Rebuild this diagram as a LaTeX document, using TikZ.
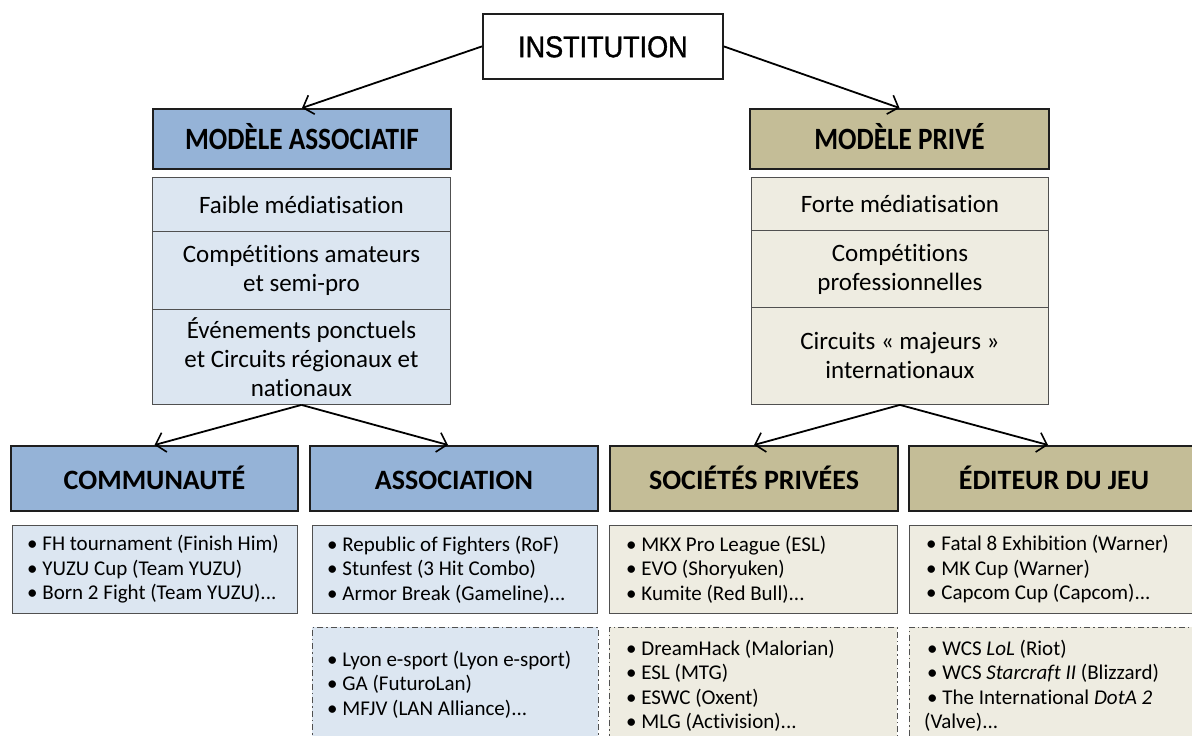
\documentclass[tikz,border=0pt]{standalone}
\usepackage{fontspec}
\setmainfont{Carlito}[Ligatures=NoCommon]
\newfontfamily\instfont{Liberation Sans}[FakeStretch=0.9,FakeBold=1.2]
\newfontfamily\hdfont{Carlito}[FakeStretch=0.88,Ligatures=NoCommon]
\newfontfamily\hdfontb{Carlito}[Ligatures=NoCommon]
\usetikzlibrary{arrows.meta}
\definecolor{hblue}{HTML}{95B3D7}
\definecolor{lblue}{HTML}{DCE6F1}
\definecolor{htan}{HTML}{C4BD97}
\definecolor{ltan}{HTML}{EEECE1}
\definecolor{bord}{HTML}{1E1E1E}
\definecolor{thin}{HTML}{505050}
\begin{document}
\begin{tikzpicture}[x=1pt,y=-1pt,
  hdr/.style={draw=bord, line width=2pt, inner sep=0pt, anchor=north west,
    text height=20pt, text depth=0pt,
    font=\hdfont\bfseries\fontsize{31}{34}\selectfont},
  hdrbig/.style={hdr, text height=21pt, text depth=0pt,
    font=\hdfontb\bfseries\fontsize{28}{32}\selectfont},
  cell/.style={draw=thin, line width=0.9pt, inner sep=0pt, anchor=north west,
    minimum width=298, align=center, font=\fontsize{25}{29}\selectfont},
  listbox/.style={draw=thin, line width=0.9pt, inner sep=0pt, anchor=north west,
    minimum width=285},
  dashbox/.style={draw=thin, line width=0.9pt, inner sep=0pt, anchor=north west,
    minimum width=286, dash pattern=on 6pt off 3pt on 1.5pt off 3pt},
  listtext/.style={anchor=west, align=left, inner sep=0pt,
    font=\fontsize{21}{24.5}\selectfont},
  conn/.style={line width=1.8pt, -{Straight Barb[length=9pt,width=20pt,line width=1.6pt]}}
]
\useasboundingbox (0,0) rectangle (1192,736);
\fill[white] (0,0) rectangle (1192,736);
\begin{scope}
\clip (0,0) rectangle (1192,736);
% top
\node[draw=bord, line width=1.8pt, fill=white, minimum width=240, minimum height=65,
  inner sep=0pt, anchor=north west, text height=21.5pt, text depth=0pt,
  font=\instfont\fontsize{30}{34}\selectfont]
  (inst) at (482,13) {INSTITUTION};
% level 1
\node[hdr, fill=hblue, minimum width=298, minimum height=60] (masso) at (152,108) {MODÈLE ASSOCIATIF};
\node[hdr, fill=htan, minimum width=299, minimum height=60] (mpriv) at (749,108) {MODÈLE PRIVÉ};
% stacks
\node[cell, fill=lblue, minimum height=54] (la) at (152,177) {Faible médiatisation};
\node[cell, fill=lblue, minimum height=78] (lb) at (152,231) {Compétitions amateurs\\et semi-pro};
\node[cell, fill=lblue, minimum height=95] (lc) at (152,309) {Événements ponctuels\\et Circuits régionaux et\\nationaux};
\node[cell, fill=ltan, minimum width=297, minimum height=53] (ra) at (751,177) {Forte médiatisation};
\node[cell, fill=ltan, minimum width=297, minimum height=77] (rb) at (751,230) {Compétitions\\professionnelles};
\node[cell, fill=ltan, minimum width=297, minimum height=97] (rc) at (751,307) {Circuits « majeurs »\\internationaux};
% level 2 headers
\node[hdrbig, fill=hblue, minimum width=287, minimum height=65] (comm) at (10,445) {COMMUNAUTÉ};
\node[hdrbig, fill=hblue, minimum width=288, minimum height=65] (asso) at (309,445) {ASSOCIATION};
\node[hdrbig, fill=htan, minimum width=288, minimum height=65] (soc) at (609,445) {SOCIÉTÉS PRIVÉES};
\node[hdrbig, fill=htan, minimum width=290, minimum height=65] (edit) at (908,445) {ÉDITEUR DU JEU};
% list boxes
\node[listbox, fill=lblue, minimum height=88] (b1) at (12,525) {};
\node[listbox, fill=lblue, minimum height=88] (b2) at (312,525) {};
\node[listbox, fill=ltan, minimum width=288, minimum height=88] (b3) at (609,525) {};
\node[listbox, fill=ltan, minimum width=290, minimum height=88] (b4) at (909,525) {};
\node[listtext] (t1) at ([xshift=15]b1.west) {\textbullet\ FH tournament (Finish Him)\\\textbullet\ YUZU Cup (Team YUZU)\\\textbullet\ Born 2 Fight (Team YUZU)...};
\node[listtext] (t2) at ([xshift=15]b2.west) {\textbullet\ Republic of Fighters (RoF)\\\textbullet\ Stunfest (3 Hit Combo)\\\textbullet\ Armor Break (Gameline)...};
\node[listtext] (t3) at ([xshift=17]b3.west) {\textbullet\ MKX Pro League (ESL)\\\textbullet\ EVO (Shoryuken)\\\textbullet\ Kumite (Red Bull)...};
\node[listtext] (t4) at ([xshift=17]b4.west) {\textbullet\ Fatal 8 Exhibition (Warner)\\\textbullet\ MK Cup (Warner)\\\textbullet\ Capcom Cup (Capcom)...};
% dashed boxes
\node[dashbox, fill=lblue, minimum height=114] (d2) at (312,627) {};
\node[dashbox, fill=ltan, minimum width=288, minimum height=114] (d3) at (609,627) {};
\node[dashbox, fill=ltan, minimum width=290, minimum height=114] (d4) at (909,627) {};
\node[listtext] (u2) at ([xshift=15]d2.west) {\textbullet\ Lyon e-sport (Lyon e-sport)\\\textbullet\ GA (FuturoLan)\\\textbullet\ MFJV (LAN Alliance)...};
\node[listtext] (u3) at ([xshift=17,yshift=-1.5]d3.west) {\textbullet\ DreamHack (Malorian)\\\textbullet\ ESL (MTG)\\\textbullet\ ESWC (Oxent)\\\textbullet\ MLG (Activision)...};
\node[listtext] (u4) at ([xshift=15,yshift=-1.5]d4.west) {\hspace*{3pt}\textbullet\ WCS \textit{LoL} (Riot)\\\hspace*{3pt}\textbullet\ WCS \textit{Starcraft II} (Blizzard)\\\hspace*{3pt}\textbullet\ The International \textit{DotA 2}\\(Valve)...};
% connectors
\draw[conn] (inst.west) -- (masso.north);
\draw[conn] (inst.east) -- (mpriv.north);
\draw[conn] (lc.south) -- (comm.north);
\draw[conn] (lc.south) -- ([xshift=-6]asso.north);
\draw[conn] (rc.south) -- (soc.north);
\draw[conn] (rc.south) -- ([xshift=-6]edit.north);
\end{scope}
\end{tikzpicture}
\end{document}
